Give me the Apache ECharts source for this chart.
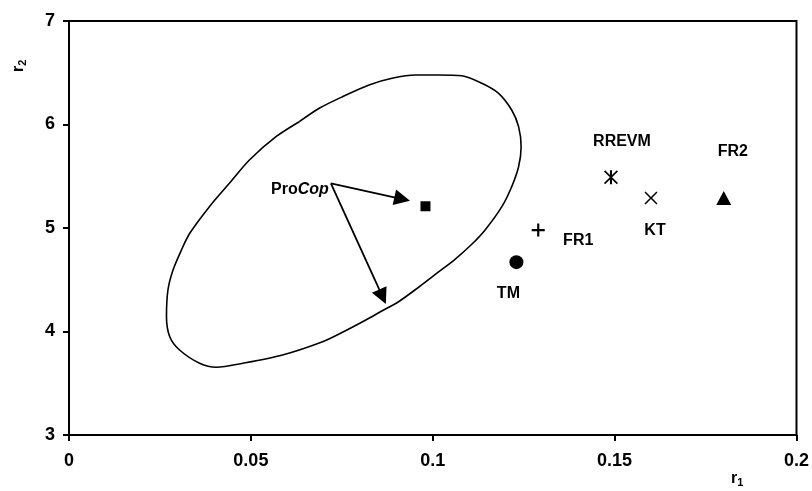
<!DOCTYPE html>
<html>
<head>
<meta charset="utf-8">
<script src="https://cdn.jsdelivr.net/npm/echarts@6/dist/echarts.min.js"></script>
<style>html,body{margin:0;padding:0;background:#fff}#c{width:812px;height:491px}</style>
</head>
<body>
<div id="c"></div>
<script>
// ---- data ----
const pointNames = ['ProCop', 'TM', 'FR1', 'RREVM', 'KT', 'FR2'];
const pointR1 = [0.098, 0.123, 0.129, 0.149, 0.160, 0.180];
const pointR2 = [5.21, 4.67, 4.98, 5.49, 5.29, 5.29];

const ellipseR1 = [0.0633, 0.0688, 0.0752, 0.0825, 0.0888, 0.0953, 0.1016, 0.1080, 0.1135, 0.1181, 0.1217, 0.1236, 0.1243, 0.1236, 0.1217, 0.1190, 0.1144, 0.1108, 0.1062, 0.1016, 0.0962, 0.0907, 0.0860, 0.0816, 0.0756, 0.0697, 0.0587, 0.0478, 0.0405, 0.0359, 0.0304, 0.0277, 0.0268, 0.0272, 0.0286, 0.0309, 0.0332, 0.0386, 0.0441, 0.0496, 0.0569, 0.0633];
const ellipseR2 = [6.027, 6.157, 6.269, 6.382, 6.446, 6.478, 6.478, 6.471, 6.398, 6.301, 6.140, 5.979, 5.786, 5.592, 5.399, 5.206, 4.981, 4.845, 4.700, 4.575, 4.430, 4.290, 4.198, 4.111, 4.000, 3.901, 3.773, 3.693, 3.654, 3.693, 3.821, 3.950, 4.143, 4.401, 4.594, 4.787, 4.949, 5.206, 5.432, 5.657, 5.882, 6.027];

const arrowFrom = [0.0720, 5.432];
const arrowToR1 = [0.0916, 0.0862];
const arrowToR2 = [5.280, 4.336];

const xMin = 0, xMax = 0.2, xStep = 0.05;
const yMin = 3, yMax = 7, yStep = 1;

// ---- styles ----
const PLUS = 'path://M-1,-6L1,-6L1,-1L6,-1L6,1L1,1L1,6L-1,6L-1,1L-6,1L-6,-1L-1,-1Z';
const CROSS = 'path://M-6,-5L-5,-6L0,-1L5,-6L6,-5L1,0L6,5L5,6L0,1L-5,6L-6,5L-1,0Z';
const STAR = 'path://M-6,-5L-5,-6L0,-1L5,-6L6,-5L1,0L6,5L5,6L0,1L-5,6L-6,5L-1,0Z M-0.9,-6L0.9,-6L0.9,6L-0.9,6Z';
const markerStyle = {
  ProCop: { symbol: 'rect', size: 10, offset: null },
  TM: { symbol: 'circle', size: 14, offset: [-8, 31] },
  FR1: { symbol: PLUS, size: 13, offset: [40, 11] },
  RREVM: { symbol: STAR, size: 14, offset: [11, -36] },
  KT: { symbol: CROSS, size: 13, offset: [4, 33] },
  FR2: { symbol: 'triangle', size: [15, 14], offset: [9, -46] }
};

const font = 'Liberation Sans, Arial, sans-serif';

const scatterData = pointNames.map((n, i) => {
  const s = markerStyle[n];
  const item = {
    name: n,
    value: [pointR1[i], pointR2[i]],
    symbol: s.symbol,
    symbolSize: s.size
  };
  if (s.offset) {
    item.label = {
      show: true, position: 'inside', offset: s.offset,
      formatter: n, color: '#000', fontSize: 16, fontWeight: 'bold', fontFamily: font
    };
  } else {
    item.label = { show: false };
  }
  return item;
});

const chart = echarts.init(document.getElementById('c'), null, { renderer: 'canvas' });
chart.setOption({
  animation: false,
  backgroundColor: '#fff',
  grid: { left: 69, right: 13, top: 21, bottom: 56, show: true, borderColor: '#000', borderWidth: 2, backgroundColor: 'transparent' },
  xAxis: {
    type: 'value', min: xMin, max: xMax, interval: xStep,
    axisLine: { show: true, onZero: false, lineStyle: { color: '#000', width: 2 } },
    axisTick: { show: true, length: 6, lineStyle: { color: '#000', width: 2 } },
    splitLine: { show: false },
    axisLabel: { color: '#000', fontSize: 18, fontWeight: 'bold', fontFamily: font, margin: 17,
      formatter: v => String(+v.toFixed(2)) }
  },
  yAxis: {
    type: 'value', min: yMin, max: yMax, interval: yStep,
    axisLine: { show: true, onZero: false, lineStyle: { color: '#000', width: 2 } },
    axisTick: { show: true, length: 6, lineStyle: { color: '#000', width: 2 } },
    splitLine: { show: false },
    axisLabel: { color: '#000', fontSize: 18, fontWeight: 'bold', fontFamily: font, margin: 14 }
  },
  graphic: [
    {
      type: 'text', left: 731, top: 471,
      style: { text: '{a|r}{b|1}', rich: {
        a: { fontSize: 16, fontWeight: 'bold', fontFamily: font, fill: '#000' },
        b: { fontSize: 11, fontWeight: 'bold', fontFamily: font, fill: '#000', padding: [8, 0, 0, 0] } } }
    },
    {
      type: 'text', x: 9, y: 72, rotation: Math.PI / 2,
      style: { text: '{a|r}{b|2}', rich: {
        a: { fontSize: 16, fontWeight: 'bold', fontFamily: font, fill: '#000' },
        b: { fontSize: 11, fontWeight: 'bold', fontFamily: font, fill: '#000', padding: [8, 0, 0, 0] } } }
    }
  ],
  series: [
    {
      type: 'line', data: ellipseR1.map((x, i) => [x, ellipseR2[i]]),
      smooth: 0.3, showSymbol: false, symbol: 'none',
      lineStyle: { color: '#000', width: 1.6 }, silent: true, z: 2
    },
    {
      type: 'lines', coordinateSystem: 'cartesian2d',
      data: arrowToR1.map((x, i) => ({ coords: [arrowFrom, [x, arrowToR2[i]]] })),
      symbol: ['none', 'triangle'], symbolSize: [13, 16],
      lineStyle: { color: '#000', width: 1.8, opacity: 1 }, silent: true, z: 3
    },
    {
      type: 'scatter', itemStyle: { color: '#000', opacity: 1 },
      data: [{ value: arrowFrom, symbolSize: 0,
        label: { show: true, position: 'left', distance: 2, offset: [0, 6], color: '#000',
          formatter: '{a|Pro}{b|Cop}',
          rich: { a: { fontSize: 16, fontWeight: 'bold', fontFamily: font, color: '#000' },
                  b: { fontSize: 16, fontWeight: 'bold', fontStyle: 'italic', fontFamily: font, color: '#000' } } } }],
      silent: true, z: 4
    },
    {
      type: 'scatter', data: scatterData,
      itemStyle: { color: '#000', opacity: 1 }, silent: true, z: 5
    }
  ]
});
</script>
</body>
</html>
